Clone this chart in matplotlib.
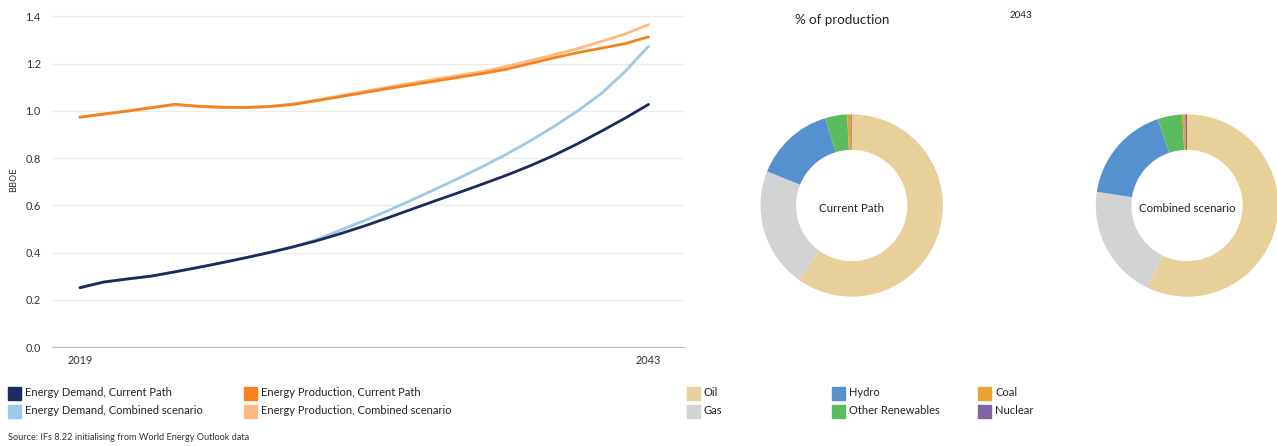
import matplotlib
matplotlib.use("Agg")
import matplotlib.pyplot as plt
from matplotlib.patches import Rectangle

plt.rcParams['font.family'] = ['Lato', 'DejaVu Sans']

years = list(range(2019, 2044))
demand_current = [0.251, 0.275, 0.288, 0.300, 0.318, 0.337, 0.357, 0.378, 0.400, 0.424,
                  0.450, 0.480, 0.512, 0.547, 0.583, 0.619, 0.654, 0.690, 0.727, 0.767,
                  0.811, 0.860, 0.913, 0.968, 1.027]
demand_combined = [0.251, 0.275, 0.288, 0.300, 0.318, 0.337, 0.357, 0.378, 0.400, 0.424,
                   0.455, 0.495, 0.535, 0.577, 0.622, 0.668, 0.715, 0.764, 0.816, 0.872,
                   0.933, 0.999, 1.072, 1.165, 1.273]
production_current = [0.973, 0.986, 0.999, 1.013, 1.027, 1.019, 1.015, 1.014, 1.018, 1.027,
                      1.043, 1.060, 1.077, 1.094, 1.110, 1.126, 1.142, 1.158, 1.176, 1.200,
                      1.224, 1.246, 1.265, 1.284, 1.313]
production_combined = [0.973, 0.986, 0.999, 1.013, 1.027, 1.019, 1.015, 1.014, 1.018, 1.029,
                       1.046, 1.064, 1.082, 1.100, 1.117, 1.134, 1.150, 1.166, 1.188, 1.212,
                       1.237, 1.263, 1.293, 1.325, 1.365]

line_labels = ["Energy Demand, Current Path", "Energy Demand, Combined scenario",
               "Energy Production, Current Path", "Energy Production, Combined scenario"]
line_colors = ["#1c2b5e", "#9ecae9", "#f5821f", "#fdbb7f"]

fuels = ["Oil", "Gas", "Hydro", "Other Renewables", "Coal", "Nuclear"]
fuel_colors = ["#e8d09a", "#d1d3d4", "#5591cf", "#5dbb5f", "#eba131", "#8064a2"]
share_current = [59.8, 21.3, 14.2, 3.9, 0.65, 0.15]
share_combined = [57.2, 20.2, 17.4, 4.4, 0.5, 0.3]
donut_titles = ["Current Path", "Combined scenario"]

W, H = 1277, 446
fig = plt.figure(figsize=(W / 100, H / 100), dpi=100)

def px_axes(x0, y0, x1, y1):
    return fig.add_axes([x0 / W, 1 - y1 / H, (x1 - x0) / W, (y1 - y0) / H])

# Line chart
ax = px_axes(52, 11.6, 684, 347)
series = [demand_current, demand_combined, production_current, production_combined]
order = [1, 0, 3, 2]
for i in order:
    ax.plot(years, series[i], color=line_colors[i], lw=2.0, solid_capstyle='round', zorder=3)
ax.set_xlim(2017.82, 2044.5)
ax.set_ylim(0, 1.42)
yt = [0.0, 0.2, 0.4, 0.6, 0.8, 1.0, 1.2, 1.4]
ax.set_yticks(yt)
ax.set_yticklabels([f"{v:.1f}" for v in yt])
ax.set_xticks([2019, 2043])
ax.set_xticklabels(["2019", "2043"])
ax.grid(axis='y', color='#ececec', lw=1)
ax.set_axisbelow(True)
for s in ['top', 'right', 'left']:
    ax.spines[s].set_visible(False)
ax.spines['bottom'].set_color('#bfbfbf')
ax.tick_params(length=0, labelsize=7.8, colors='#333333')
ax.tick_params(axis='y', pad=8)
ax.tick_params(axis='x', pad=6)
ax.set_ylabel("BBOE", fontsize=6.5, family='DejaVu Sans', color='#333333')
ax.yaxis.set_label_coords(-0.054, 0.5)

# Donuts
centers = [(851.7, 205.5), (1187, 205.5)]
shares = [share_current, share_combined]
for (cx, cy), sh, title in zip(centers, shares, donut_titles):
    size = 200
    pa = px_axes(cx - size / 2, cy - size / 2, cx + size / 2, cy + size / 2)
    pa.pie(sh, colors=fuel_colors, startangle=90, counterclock=False,
           radius=1.0, wedgeprops=dict(width=0.39, edgecolor='none'))
    lim = size / 2 / 91.2
    pa.set_xlim(-lim, lim)
    pa.set_ylim(-lim, lim)
    pa.set_aspect('equal')
    pa.axis('off')
    pa.text(0, -0.03, title, ha='center', va='center', fontsize=8.3, color='#222222')

fig.text(795 / W, 1 - 20.5 / H, "% of production", fontsize=9.6, va='center', ha='left', color='#222222')
fig.text(1010 / W, 1 - 15 / H, "2043", fontsize=7, va='center', ha='left', color='#222222')

# Legends
def legend_item(x, y, color, label):
    fig.patches.append(Rectangle((x / W, 1 - (y + 6.5) / H), 13 / W, 13 / H,
                                 transform=fig.transFigure, color=color, figure=fig))
    fig.text((x + 17) / W, 1 - y / H, label, fontsize=8, va='center', ha='left', color='#222222')

legend_item(8, 393, line_colors[0], line_labels[0])
legend_item(8, 411, line_colors[1], line_labels[1])
legend_item(244, 393, line_colors[2], line_labels[2])
legend_item(244, 411, line_colors[3], line_labels[3])

fuel_pos = [(687, 393), (687, 411), (832, 393), (832, 411), (978, 393), (978, 411)]
for (x, y), c, lab in zip(fuel_pos, fuel_colors, fuels):
    legend_item(x, y, c, lab)

fig.text(8 / W, 1 - 438 / H, "Source: IFs 8.22 initialising from World Energy Outlook data",
         fontsize=6.6, va='center', ha='left', color='#333333')

fig.savefig("out.png", dpi=100)
